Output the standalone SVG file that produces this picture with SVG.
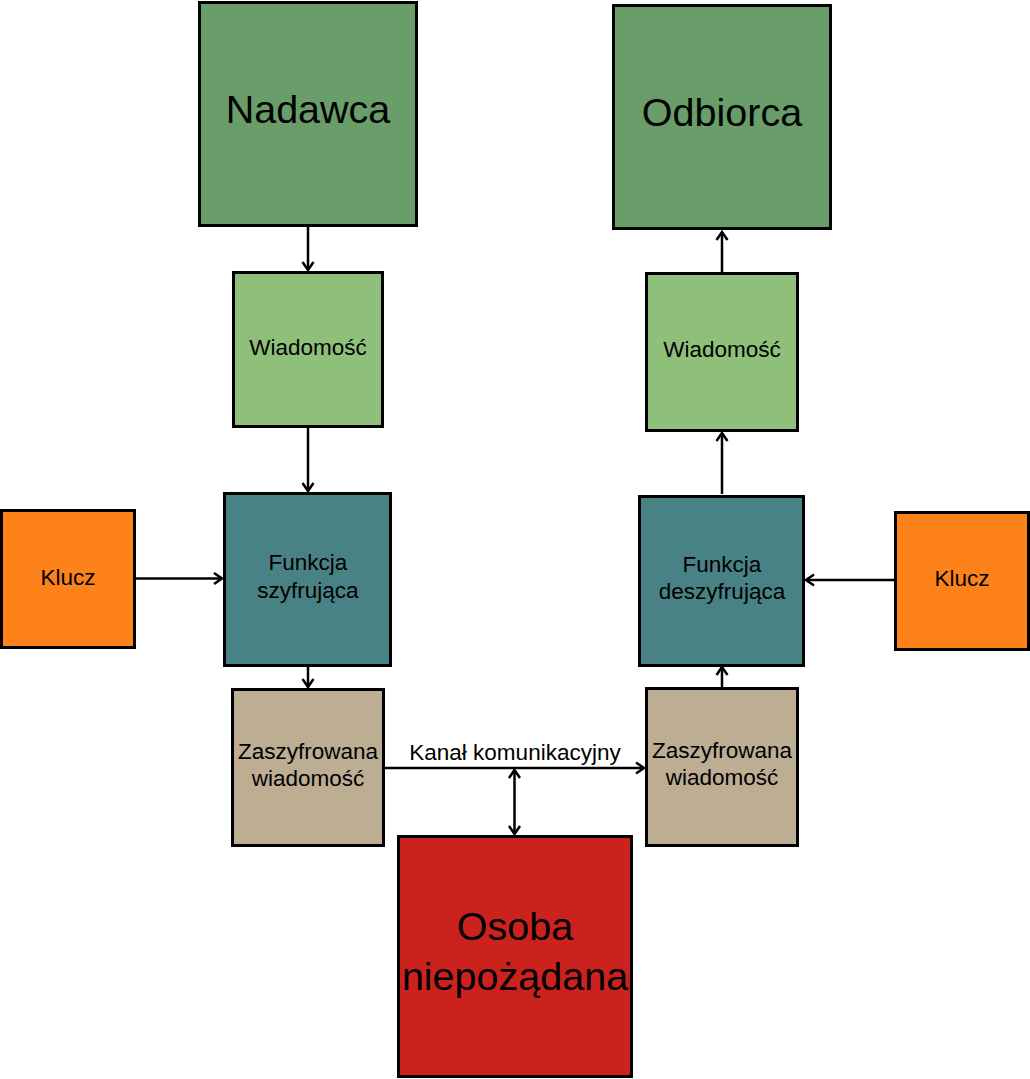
<svg xmlns="http://www.w3.org/2000/svg" width="1030" height="1079" viewBox="0 0 1030 1079">
<style>
.box{stroke:#000;stroke-width:3}
.t{font-family:"Liberation Sans",Arial,sans-serif;fill:#000;text-anchor:middle}
.s{font-size:22.5px}
.l{font-size:39.5px}
.c{fill:none;stroke:#000;stroke-width:2.5}
</style>
<defs>
<marker id="ah" markerUnits="userSpaceOnUse" markerWidth="20" markerHeight="20" viewBox="-10 -10 20 20" refX="0" refY="0" orient="auto-start-reverse">
<path d="M-8,-5.5 L0,0 L-8,5.5" fill="none" stroke="#000" stroke-width="2.5"/>
</marker>
</defs>
<rect width="1030" height="1079" fill="#fff"/>
<g id="connectors">
<line class="c" x1="308" y1="227" x2="308" y2="270" marker-end="url(#ah)"/>
<line class="c" x1="308" y1="428" x2="308" y2="491" marker-end="url(#ah)"/>
<line class="c" x1="136" y1="578.5" x2="222" y2="578.5" marker-end="url(#ah)"/>
<line class="c" x1="308" y1="667" x2="308" y2="687" marker-end="url(#ah)"/>
<line class="c" x1="385" y1="768" x2="644" y2="768" marker-end="url(#ah)"/>
<line class="c" x1="514.5" y1="770" x2="514.5" y2="834" marker-start="url(#ah)" marker-end="url(#ah)"/>
<line class="c" x1="722" y1="687" x2="722" y2="667" marker-end="url(#ah)"/>
<line class="c" x1="894" y1="580" x2="806" y2="580" marker-end="url(#ah)"/>
<line class="c" x1="722" y1="494" x2="722" y2="433" marker-end="url(#ah)"/>
<line class="c" x1="722" y1="272" x2="722" y2="232" marker-end="url(#ah)"/>
<text class="t s" x="515" y="760">Kanał komunikacyjny</text>
</g>
<g id="nadawca">
<rect class="box" x="199.5" y="2.5" width="217" height="223" fill="#699e6a"/>
<text class="t l" x="308" y="123">Nadawca</text>
</g>
<g id="odbiorca">
<rect class="box" x="613.5" y="5.5" width="217" height="223" fill="#699e6a"/>
<text class="t l" x="722" y="126">Odbiorca</text>
</g>
<g id="wiadomosc1">
<rect class="box" x="233.5" y="272.5" width="149" height="154" fill="#8fc07a"/>
<text class="t s" x="308" y="355">Wiadomość</text>
</g>
<g id="wiadomosc2">
<rect class="box" x="646.5" y="273.5" width="151" height="157" fill="#8fc07a"/>
<text class="t s" x="722" y="357">Wiadomość</text>
</g>
<g id="funkcja-szyfrujaca">
<rect class="box" x="224.5" y="493.5" width="166" height="172" fill="#488284"/>
<text class="t s" x="308" y="570">Funkcja</text>
<text class="t s" x="308" y="598">szyfrująca</text>
</g>
<g id="funkcja-deszyfrujaca">
<rect class="box" x="639.5" y="496.5" width="164" height="169" fill="#488284"/>
<text class="t s" x="722" y="572">Funkcja</text>
<text class="t s" x="722" y="599">deszyfrująca</text>
</g>
<g id="klucz1">
<rect class="box" x="1.5" y="510.5" width="133" height="137" fill="#fd8219"/>
<text class="t s" x="68" y="585">Klucz</text>
</g>
<g id="klucz2">
<rect class="box" x="895.5" y="512.5" width="133" height="137" fill="#fd8219"/>
<text class="t s" x="962" y="586">Klucz</text>
</g>
<g id="zaszyfrowana1">
<rect class="box" x="232.5" y="689.5" width="151" height="156" fill="#bcad93"/>
<text class="t s" x="308" y="759">Zaszyfrowana</text>
<text class="t s" x="308" y="786">wiadomość</text>
</g>
<g id="zaszyfrowana2">
<rect class="box" x="646.5" y="688.5" width="151" height="157" fill="#bcad93"/>
<text class="t s" x="722" y="758">Zaszyfrowana</text>
<text class="t s" x="722" y="785">wiadomość</text>
</g>
<g id="osoba">
<rect class="box" x="398.5" y="836.5" width="233" height="240" fill="#cb221e"/>
<text class="t l" x="515" y="940">Osoba</text>
<text class="t l" x="515" y="990">niepożądana</text>
</g>
</svg>
